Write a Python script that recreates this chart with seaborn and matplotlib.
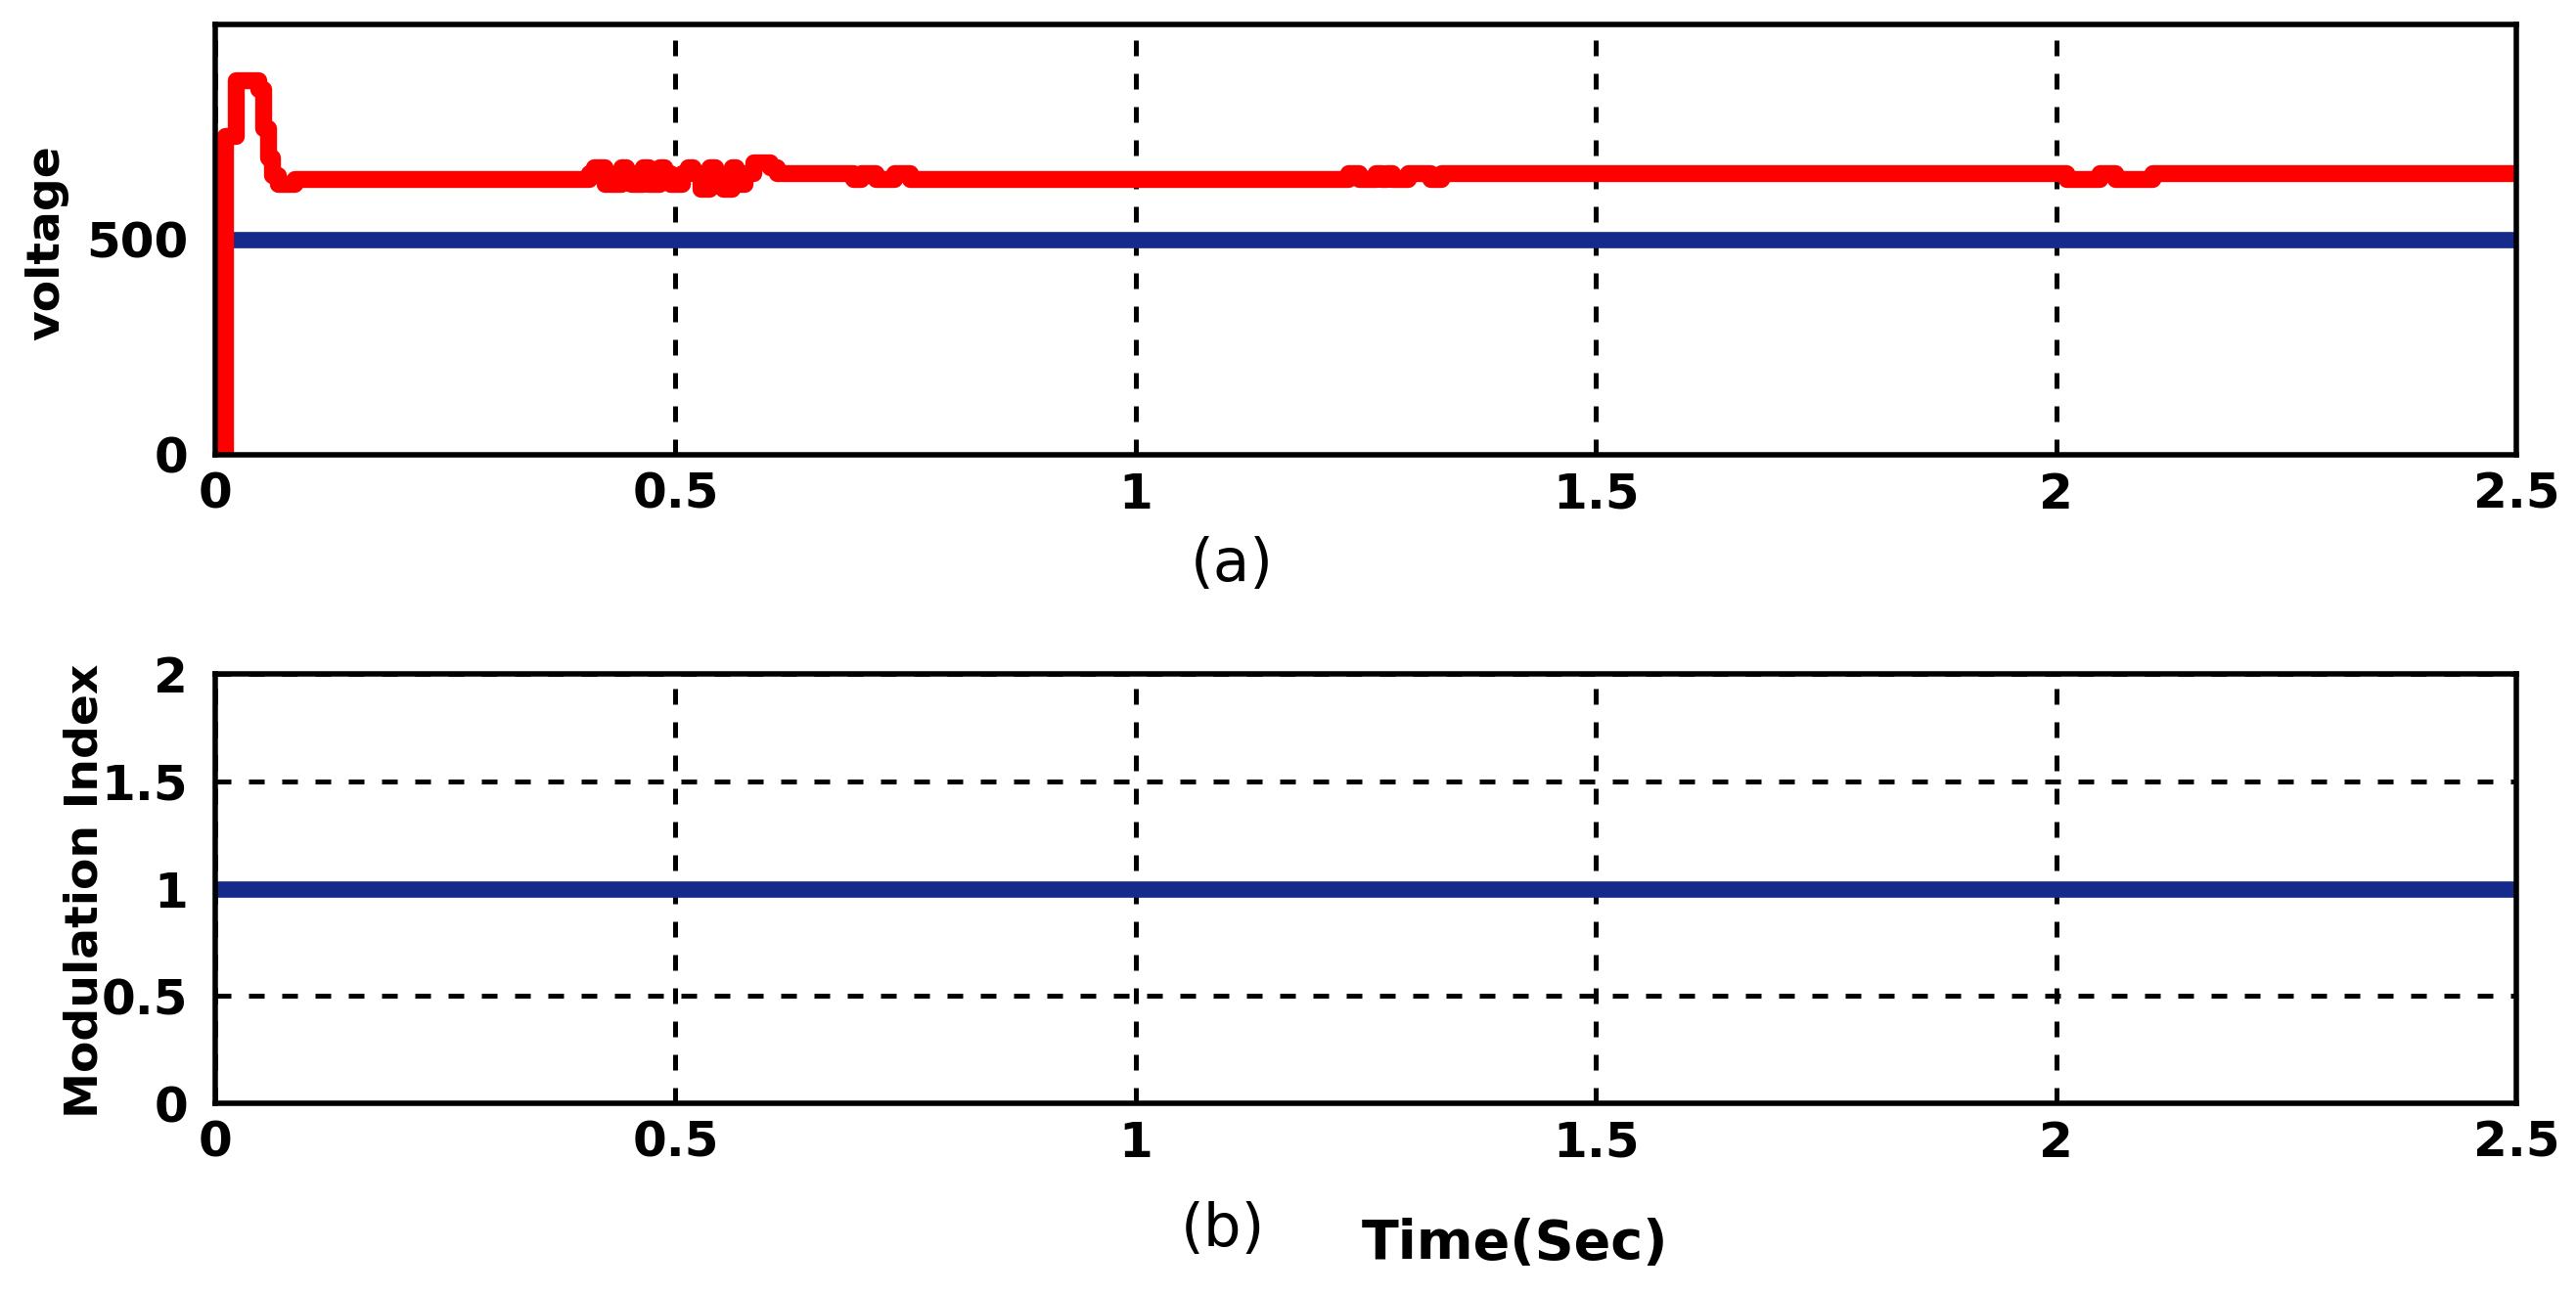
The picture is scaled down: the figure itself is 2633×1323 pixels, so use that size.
import matplotlib
matplotlib.use("Agg")
import matplotlib.pyplot as plt
import seaborn as sns

# x axis ticks (seconds)
time_ticks = [0, 0.5, 1, 1.5, 2, 2.5]
time_tick_labels = ["0", "0.5", "1", "1.5", "2", "2.5"]

volt_time = [0.000, 0.011, 0.022, 0.047, 0.052, 0.057, 0.062, 0.068, 0.086,
             0.406, 0.411, 0.423, 0.441, 0.446, 0.452, 0.465, 0.471, 0.483,
             0.488, 0.494, 0.507, 0.513, 0.519, 0.527, 0.537, 0.543, 0.552,
             0.561, 0.566, 0.575, 0.585, 0.603, 0.610, 0.693, 0.702, 0.718,
             0.738, 0.755, 1.231, 1.243, 1.261, 1.267, 1.272, 1.279, 1.290,
             1.296, 1.320, 1.332, 2.011, 2.047, 2.064, 2.105, 2.500]
volt_value = [0, 740, 870, 850, 760, 690, 650, 630, 641,
              655, 668, 630, 668, 655, 630, 668, 630, 668,
              655, 630, 655, 668, 655, 618, 668, 630, 618,
              668, 630, 655, 680, 668, 655, 641, 655, 641,
              655, 641, 655, 641, 655, 641, 655, 641, 641,
              655, 641, 655, 641, 655, 641, 655, 655]

# (a) reference voltage
ref_time = [0, 2.5]
ref_value = [500, 500]
volt_yticks = [0, 500]

# (b) modulation index
mi_time = [0, 2.5]
mi_value = [1, 1]
mi_yticks = [0, 0.5, 1, 1.5, 2]
mi_ytick_labels = ["0", "0.5", "1", "1.5", "2"]

RED = "#ff0000"
BLUE = "#162a8c"

sns.set_theme(style="white")
plt.rcParams["font.family"] = ["DejaVu Sans"]
plt.rcParams["text.color"] = "black"

W, H = 2633, 1323
fig = plt.figure(figsize=(W / 100, H / 100), dpi=100)

def px_axes(left, top, right, bottom):
    return fig.add_axes([left / W, 1 - bottom / H, (right - left) / W, (bottom - top) / H])

ax1 = px_axes(220, 25, 2572, 465)
ax2 = px_axes(220, 689, 2572, 1128)

sns.lineplot(x=ref_time, y=ref_value, ax=ax1, color=BLUE, linewidth=12,
             sort=False, estimator=None, zorder=2)
sns.lineplot(x=volt_time, y=volt_value, ax=ax1, color=RED, linewidth=12.5,
             sort=False, estimator=None, drawstyle="steps-post", zorder=3)
sns.lineplot(x=mi_time, y=mi_value, ax=ax2, color=BLUE, linewidth=12,
             sort=False, estimator=None, zorder=2)

ax1.set_ylim(0, 1000)
ax1.set_yticks(volt_yticks)
ax1.set_yticklabels([str(v) for v in volt_yticks])
ax2.set_ylim(0, 2)
ax2.set_yticks(mi_yticks)
ax2.set_yticklabels(mi_ytick_labels)

for ax in (ax1, ax2):
    ax.set_xlim(0, 2.5)
    ax.set_xticks(time_ticks)
    ax.set_xticklabels(time_tick_labels)
    ax.set_xlabel("")
    ax.set_ylabel("")
    ax.grid(True, color="black", linewidth=3.6, linestyle=(0, (3.2, 3.6)), zorder=1)
    ax.set_axisbelow(True)
    for sp in ax.spines.values():
        sp.set_visible(True)
        sp.set_color("black")
        sp.set_linewidth(4)
        sp.set_zorder(5)
    ax.tick_params(axis="both", direction="in", length=18, width=3, color="black",
                   labelsize=36, labelcolor="black")
    ax.tick_params(axis="x", pad=12)
    ax.tick_params(axis="y", pad=20)
    for lab in ax.get_xticklabels() + ax.get_yticklabels():
        lab.set_fontweight("bold")

fig.text(48 / W, 1 - 248 / H, "voltage", rotation=90, ha="center", va="center",
         fontsize=34, fontweight="bold", color="black")
fig.text(87 / W, 1 - 911 / H, "Modulation Index", rotation=90, ha="center", va="center",
         fontsize=34, fontweight="bold", color="black")
fig.text(1259 / W, 1 - 577 / H, "(a)", ha="center", va="center", fontsize=44, color="black")
fig.text(1250 / W, 1 - 1258 / H, "(b)", ha="center", va="center", fontsize=44, color="black")
fig.text(1548 / W, 1 - 1272 / H, "Time(Sec)", ha="center", va="center",
         fontsize=40, fontweight="bold", color="black")

fig.savefig("out.png", dpi=100, facecolor="white")
